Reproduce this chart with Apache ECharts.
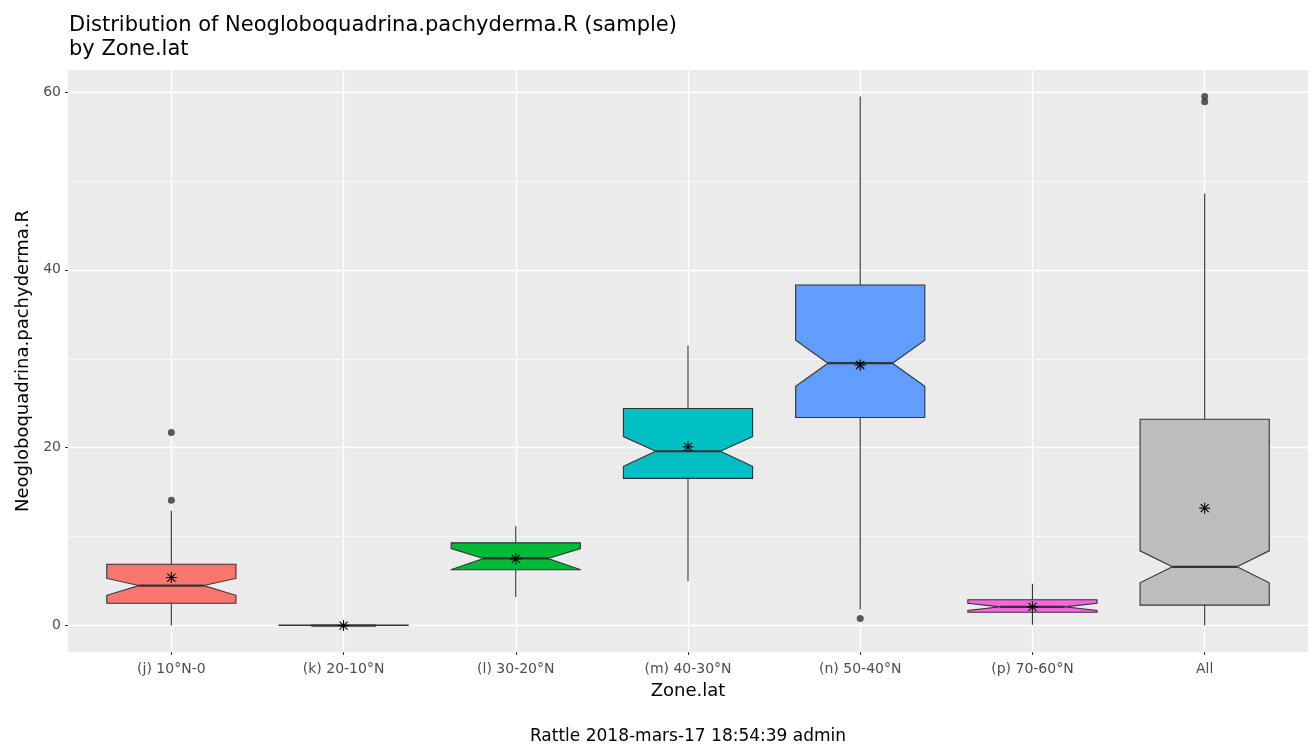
<!DOCTYPE html>
<html>
<head>
<meta charset="utf-8">
<script src="https://cdn.jsdelivr.net/npm/echarts@6/dist/echarts.min.js"></script>
<style>
  html, body { margin: 0; padding: 0; background: #fff; }
  #main { width: 1309px; height: 749px; }
</style>
</head>
<body>
<div id="main"></div>
<script>
var categories = ['(j) 10°N-0', '(k) 20-10°N', '(l) 30-20°N', '(m) 40-30°N', '(n) 50-40°N', '(p) 70-60°N', 'All'];
var boxColors = ['#F8766D', '#B79F00', '#00BA38', '#00BFC4', '#619CFF', '#F564E3', '#BEBEBE'];

// box stats
var whiskerLow  = [0,    0, 3.2,  5.0,  1.8,  0.1, 0];
var q1          = [2.5,  0, 6.27, 16.55, 23.4, 1.5, 2.3];
var notchLow    = [3.4,  0, 6.3,  17.9, 26.9, 1.7, 4.8];
var median      = [4.5,  0, 7.55, 19.6, 29.5, 2.1, 6.6];
var notchHigh   = [5.3,  0, 8.65, 21.25, 32.1, 2.5, 8.4];
var q3          = [6.9,  0.05, 9.3, 24.4, 38.3, 2.9, 23.2];
var whiskerHigh = [12.9, 0.1, 11.2, 31.5, 59.5, 4.7, 48.6];
var means       = [5.4,  0, 7.5,  20.1, 29.3, 2.1, 13.2];

// outliers: [category index, value]
var outliers = [[0, 21.7], [0, 14.1], [4, 0.8], [6, 59.5], [6, 58.9]];

var yMajor = [0, 20, 40, 60];
var yMinor = [10, 30, 50];
var xTicks = [1, 2, 3, 4, 5, 6, 7];

var font = 'DejaVu Sans';

var boxData = categories.map(function (c, i) {
  return [i + 1, whiskerLow[i], q1[i], notchLow[i], median[i], notchHigh[i], q3[i], whiskerHigh[i], means[i]];
});
var outlierData = outliers.map(function (o) { return [o[0] + 1, o[1]]; });

function renderBox(params, api) {
  var x = api.value(0);
  var idx = params.dataIndex;
  var halfW = api.size([0.75, 0])[0] / 2;
  var notchW = halfW * 0.5;
  var cx = api.coord([x, 0])[0];
  var yLo = api.coord([x, api.value(1)])[1];
  var yQ1 = api.coord([x, api.value(2)])[1];
  var yNl = api.coord([x, api.value(3)])[1];
  var yMed = api.coord([x, api.value(4)])[1];
  var yNu = api.coord([x, api.value(5)])[1];
  var yQ3 = api.coord([x, api.value(6)])[1];
  var yHi = api.coord([x, api.value(7)])[1];
  var yMean = api.coord([x, api.value(8)])[1];
  var line = { stroke: '#333333', lineWidth: 1.1 };
  var s = 5.5, d = 4;
  return {
    type: 'group',
    children: [
      { type: 'line', shape: { x1: cx, y1: yQ3, x2: cx, y2: yHi }, style: line },
      { type: 'line', shape: { x1: cx, y1: yLo, x2: cx, y2: yQ1 }, style: line },
      {
        type: 'polygon',
        shape: {
          points: [
            [cx - halfW, yQ3], [cx - halfW, yNu], [cx - notchW, yMed], [cx - halfW, yNl],
            [cx - halfW, yQ1], [cx + halfW, yQ1], [cx + halfW, yNl], [cx + notchW, yMed],
            [cx + halfW, yNu], [cx + halfW, yQ3]
          ]
        },
        style: { fill: boxColors[idx], stroke: '#333333', lineWidth: 1.1 }
      },
      { type: 'line', shape: { x1: cx - notchW, y1: yMed, x2: cx + notchW, y2: yMed }, style: { stroke: '#333333', lineWidth: 2.2 } },
      { type: 'line', shape: { x1: cx - s, y1: yMean, x2: cx + s, y2: yMean }, style: { stroke: '#000', lineWidth: 1.1 } },
      { type: 'line', shape: { x1: cx, y1: yMean - s, x2: cx, y2: yMean + s }, style: { stroke: '#000', lineWidth: 1.1 } },
      { type: 'line', shape: { x1: cx - d, y1: yMean - d, x2: cx + d, y2: yMean + d }, style: { stroke: '#000', lineWidth: 1.1 } },
      { type: 'line', shape: { x1: cx - d, y1: yMean + d, x2: cx + d, y2: yMean - d }, style: { stroke: '#000', lineWidth: 1.1 } }
    ]
  };
}

var myChart = echarts.init(document.getElementById('main'));
var option = {
  animation: false,
  backgroundColor: '#ffffff',
  title: {
    text: 'Distribution of Neogloboquadrina.pachyderma.R (sample)\nby Zone.lat',
    left: 64,
    top: 9,
    textStyle: { fontFamily: font, fontSize: 21, fontWeight: 'normal', color: '#000', lineHeight: 24 }
  },
  grid: {
    left: 68, right: 1, top: 70, bottom: 97,
    show: true, backgroundColor: '#EBEBEB', borderWidth: 0
  },
  xAxis: {
    type: 'value',
    min: 0.4,
    max: 7.6,
    name: 'Zone.lat',
    nameLocation: 'middle',
    nameGap: 30,
    nameTextStyle: { fontFamily: font, fontSize: 18, color: '#000' },
    axisLine: { show: false, onZero: false },
    axisTick: { show: true, length: 3, customValues: xTicks, lineStyle: { color: '#333333' } },
    axisLabel: {
      customValues: xTicks,
      margin: 10,
      fontFamily: font, fontSize: 14, color: '#4D4D4D',
      formatter: function (v) { return categories[Math.round(v) - 1] || ''; }
    },
    splitLine: { show: true, lineStyle: { color: '#ffffff', width: 1.4 } }
  },
  yAxis: [{
    type: 'value',
    min: -2.975,
    max: 62.475,
    name: 'Neogloboquadrina.pachyderma.R',
    nameLocation: 'middle',
    nameGap: 36,
    nameTextStyle: { fontFamily: font, fontSize: 18, color: '#000' },
    axisLine: { show: false, onZero: false },
    axisTick: { show: true, length: 3, customValues: yMajor, lineStyle: { color: '#333333' } },
    axisLabel: { customValues: yMajor, margin: 7, fontFamily: font, fontSize: 14, color: '#4D4D4D' },
    splitLine: { show: true, lineStyle: { color: '#ffffff', width: 1.4 } }
  }, {
    type: 'value',
    min: -2.975,
    max: 62.475,
    position: 'left',
    axisLine: { show: false, onZero: false },
    axisTick: { show: false, customValues: yMinor },
    axisLabel: { show: false, customValues: yMinor },
    splitLine: { show: true, lineStyle: { color: '#ffffff', width: 0.7 } }
  }],
  graphic: [{
    type: 'text',
    x: 688,
    y: 737,
    style: {
      text: 'Rattle 2018-mars-17 18:54:39 admin',
      fontFamily: font, fontSize: 17, fill: '#000',
      textAlign: 'center', textVerticalAlign: 'middle'
    }
  }],
  series: [{
    type: 'custom',
    renderItem: renderBox,
    data: boxData,
    encode: { x: 0, y: [1, 2, 3, 4, 5, 6, 7, 8] },
    z: 2
  }, {
    type: 'scatter',
    data: outlierData,
    symbol: 'circle',
    symbolSize: 7,
    itemStyle: { color: '#333333' },
    z: 3
  }]
};
myChart.setOption(option);
</script>
</body>
</html>
